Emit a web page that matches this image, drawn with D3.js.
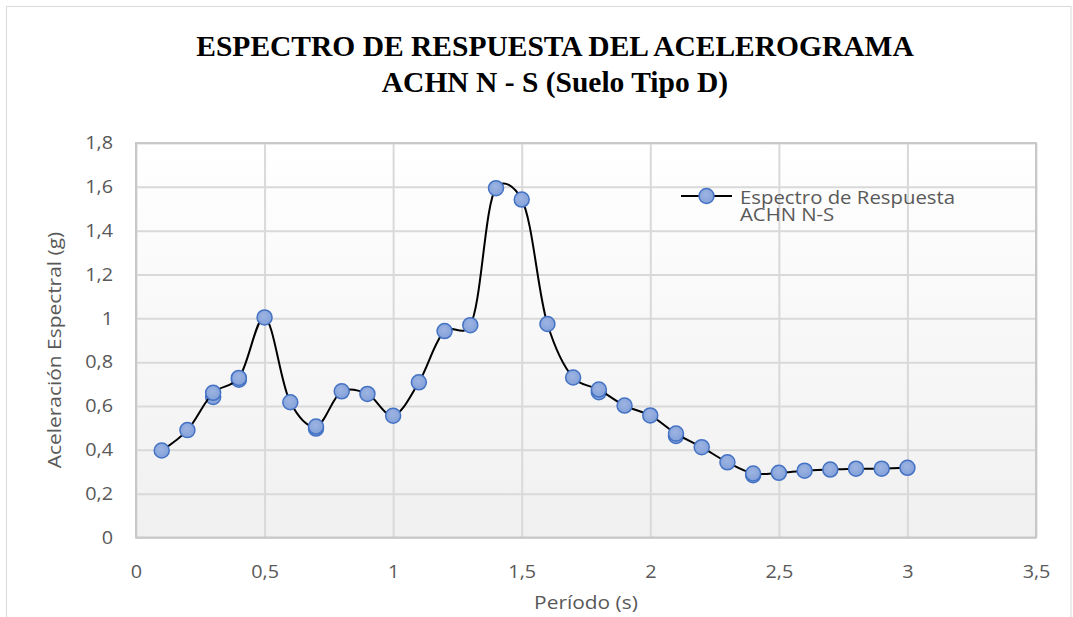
<!DOCTYPE html>
<html>
<head>
<meta charset="utf-8">
<script src="https://cdn.jsdelivr.net/npm/d3@7"></script>
<style>
  html, body { margin: 0; padding: 0; background: #ffffff; }
  svg { display: block; }
</style>
</head>
<body>
<svg id="chart" width="1073" height="617"></svg>
<script>
// Response spectrum of accelerogram ACHN N-S (soil type D)
const periods = [0.1, 0.2, 0.3, 0.4, 0.5, 0.6, 0.7, 0.8, 0.9, 1.0,
                 1.1, 1.2, 1.3, 1.4, 1.5, 1.6, 1.7, 1.8, 1.9, 2.0,
                 2.1, 2.2, 2.3, 2.4, 2.5, 2.6, 2.7, 2.8, 2.9, 3.0];
const accel = [0.397, 0.490, 0.660, 0.728, 1.004, 0.617, 0.506, 0.667, 0.655, 0.556,
               0.708, 0.942, 0.969, 1.594, 1.542, 0.974, 0.730, 0.675, 0.602, 0.557,
               0.474, 0.412, 0.343, 0.292, 0.295, 0.305, 0.310, 0.314, 0.314, 0.318];
// repeated readings at a few periods (markers only)
const repeatPeriods = [0.3, 0.4, 0.7, 1.8, 2.1, 2.4];
const repeatAccel = [0.641, 0.720, 0.497, 0.663, 0.463, 0.284];

const xTicks = [0, 0.5, 1, 1.5, 2, 2.5, 3, 3.5];
const yTicks = [0, 0.2, 0.4, 0.6, 0.8, 1, 1.2, 1.4, 1.6, 1.8];

const titleLines = ["ESPECTRO DE RESPUESTA DEL ACELEROGRAMA", "ACHN N - S (Suelo Tipo D)"];
const xTitle = "Período (s)";
const yTitle = "Aceleración Espectral (g)";
const legendLines = ["Espectro de Respuesta", "ACHN N-S"];

const uiFont = "'Open Sans', 'Noto Sans', sans-serif";
const textGrey = "#595959";
const widen = 1.1;                       // horizontal stretch of the sans labels
const fmt = v => String(v).replace(".", ",");

// stretch text horizontally around its own anchor x
function stretch(sel) {
  sel.each(function () {
    const t = d3.select(this);
    const x0 = +(t.attr("x") || 0);
    t.attr("x", x0 / widen).attr("transform", `scale(${widen},1)`);
  });
}

const svg = d3.select("#chart");

// outer chart frame
svg.append("rect")
  .attr("x", 6.5).attr("y", 6.5).attr("width", 1064.5).attr("height", 620)
  .attr("fill", "#ffffff").attr("stroke", "#d9d9d9").attr("stroke-width", 1);

const plot = { left: 136, right: 1036, top: 143, bottom: 537.5 };
const x = d3.scaleLinear().domain([0, 3.5]).range([plot.left, plot.right]);
const y = d3.scaleLinear().domain([0, 1.8]).range([plot.bottom, plot.top]);

const defs = svg.append("defs");
const bg = defs.append("linearGradient").attr("id", "plotBg")
  .attr("x1", 0).attr("y1", 0).attr("x2", 0).attr("y2", 1);
bg.append("stop").attr("offset", "0%").attr("stop-color", "#ffffff");
bg.append("stop").attr("offset", "100%").attr("stop-color", "#f0f0f0");

const mk = defs.append("radialGradient").attr("id", "markerFill")
  .attr("cx", "45%").attr("cy", "40%").attr("r", "65%");
mk.append("stop").attr("offset", "0%").attr("stop-color", "#9db4e2");
mk.append("stop").attr("offset", "100%").attr("stop-color", "#819fd8");

// plot area background
svg.append("rect")
  .attr("x", plot.left).attr("y", plot.top)
  .attr("width", plot.right - plot.left).attr("height", plot.bottom - plot.top)
  .attr("fill", "url(#plotBg)");

// gridlines
const gridColor = "#d9d9d9";
svg.append("g")
  .attr("transform", `translate(0,${plot.bottom})`)
  .call(d3.axisBottom(x).tickValues(xTicks).tickSize(-(plot.bottom - plot.top)).tickFormat(""))
  .call(g => g.select(".domain").remove())
  .call(g => g.selectAll("line").attr("stroke", gridColor).attr("stroke-width", 2));
svg.append("g")
  .attr("transform", `translate(${plot.left},0)`)
  .call(d3.axisLeft(y).tickValues(yTicks).tickSize(-(plot.right - plot.left)).tickFormat(""))
  .call(g => g.select(".domain").remove())
  .call(g => g.selectAll("line").attr("stroke", gridColor).attr("stroke-width", 2));

// plot frame
svg.append("rect")
  .attr("x", plot.left).attr("y", plot.top)
  .attr("width", plot.right - plot.left).attr("height", plot.bottom - plot.top)
  .attr("fill", "none").attr("stroke", "#c8c8c8").attr("stroke-width", 2);

// tick labels
svg.append("g")
  .attr("transform", `translate(0,${plot.bottom})`)
  .call(d3.axisBottom(x).tickValues(xTicks).tickSize(0).tickPadding(28).tickFormat(fmt))
  .call(g => g.select(".domain").remove())
  .call(g => g.selectAll("text")
    .attr("font-family", uiFont).attr("font-size", 18).attr("fill", textGrey)
    .call(stretch));
svg.append("g")
  .attr("transform", `translate(${plot.left},0)`)
  .call(d3.axisLeft(y).tickValues(yTicks).tickSize(0).tickPadding(23).tickFormat(fmt))
  .call(g => g.select(".domain").remove())
  .call(g => g.selectAll("text")
    .attr("font-family", uiFont).attr("font-size", 18).attr("fill", textGrey)
    .call(stretch));

// axis titles
svg.append("text")
  .attr("x", x(1.75)).attr("y", 609)
  .attr("text-anchor", "middle")
  .attr("font-family", uiFont).attr("font-size", 19).attr("fill", textGrey)
  .text(xTitle)
  .call(stretch);
svg.append("text")
  .attr("transform", `translate(61,350) rotate(-90) scale(${widen},1)`)
  .attr("text-anchor", "middle")
  .attr("font-family", uiFont).attr("font-size", 19).attr("fill", textGrey)
  .text(yTitle);

// title
svg.append("g").selectAll("text").data(titleLines).join("text")
  .attr("x", 555).attr("y", (d, i) => 56 + i * 36)
  .attr("text-anchor", "middle")
  .attr("font-family", "'Liberation Serif', 'Times New Roman', serif")
  .attr("font-weight", "bold").attr("font-size", 29.5).attr("fill", "#000000")
  .text(d => d);

// series
const pts = periods.map((p, i) => [p, accel[i]]);
const line = d3.line()
  .x(d => x(d[0])).y(d => y(d[1]))
  .curve(d3.curveCatmullRom.alpha(0.25));

const markerR = 7.5;
const drawMarkers = (sel, data) => sel.selectAll("circle").data(data).join("circle")
  .attr("cx", d => x(d[0])).attr("cy", d => y(d[1])).attr("r", markerR)
  .attr("fill", "url(#markerFill)").attr("stroke", "#4472c4").attr("stroke-width", 1.5);

drawMarkers(svg.append("g"), repeatPeriods.map((p, i) => [p, repeatAccel[i]]));

svg.append("path")
  .datum(pts)
  .attr("d", line)
  .attr("fill", "none").attr("stroke", "#000000").attr("stroke-width", 2);

drawMarkers(svg.append("g"), pts);

// legend
const lg = svg.append("g");
lg.append("line")
  .attr("x1", 681).attr("x2", 732).attr("y1", 196).attr("y2", 196)
  .attr("stroke", "#000000").attr("stroke-width", 2);
lg.append("circle")
  .attr("cx", 706.5).attr("cy", 196).attr("r", markerR)
  .attr("fill", "url(#markerFill)").attr("stroke", "#4472c4").attr("stroke-width", 1.5);
lg.selectAll("text").data(legendLines).join("text")
  .attr("x", 740).attr("y", (d, i) => 204 + i * 17.5)
  .attr("font-family", uiFont).attr("font-size", 18.5).attr("fill", textGrey)
  .text(d => d)
  .call(stretch);
</script>
</body>
</html>
